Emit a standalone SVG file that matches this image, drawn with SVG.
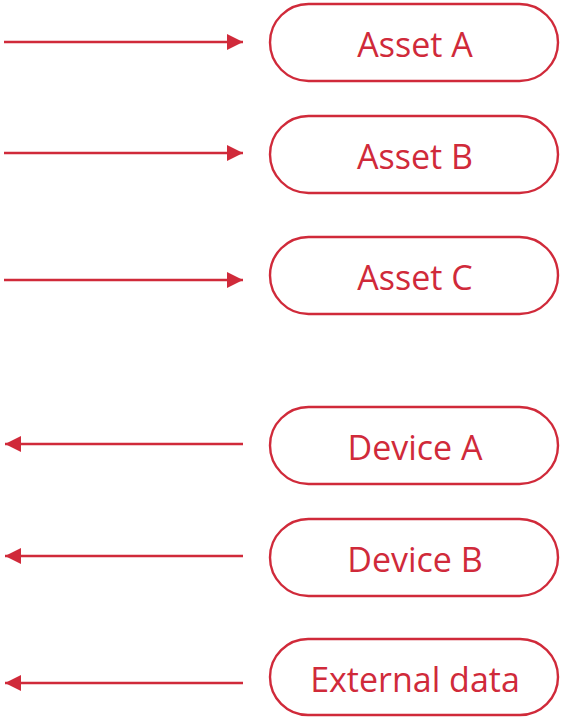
<svg xmlns="http://www.w3.org/2000/svg" width="562" height="717" viewBox="0 0 562 717">
<style>
.box{fill:#fff;stroke:#d02a3a;stroke-width:2.4}
.lbl{font-family:"Open Sans","Noto Sans",sans-serif;font-size:34px;fill:#d02a3a;text-anchor:middle}
.ln{stroke:#d02a3a;stroke-width:2.5;fill:none}
</style>
<defs>
<marker id="ah" viewBox="0 0 16 16" refX="16" refY="8" markerWidth="16" markerHeight="16" markerUnits="userSpaceOnUse" orient="auto">
<path d="M0,0 L16,8 L0,16 Z" fill="#d02a3a"/>
</marker>
</defs>
<rect width="562" height="717" fill="#fff"/>
<g id="connectors">
<line class="ln" x1="4" y1="42" x2="243" y2="42" marker-end="url(#ah)"/>
<line class="ln" x1="4" y1="153" x2="243" y2="153" marker-end="url(#ah)"/>
<line class="ln" x1="4" y1="280" x2="243" y2="280" marker-end="url(#ah)"/>
<line class="ln" x1="243" y1="444" x2="5" y2="444" marker-end="url(#ah)"/>
<line class="ln" x1="243" y1="556" x2="5" y2="556" marker-end="url(#ah)"/>
<line class="ln" x1="243" y1="683" x2="5" y2="683" marker-end="url(#ah)"/>
</g>
<g id="assetA"><rect class="box" x="270" y="4" width="288" height="77" rx="38.5"/><text class="lbl" x="415" y="57">Asset A</text></g>
<g id="assetB"><rect class="box" x="270" y="116" width="288" height="77" rx="38.5"/><text class="lbl" x="415" y="169">Asset B</text></g>
<g id="assetC"><rect class="box" x="270" y="237" width="288" height="77" rx="38.5"/><text class="lbl" x="415" y="290">Asset C</text></g>
<g id="deviceA"><rect class="box" x="270" y="407" width="288" height="77" rx="38.5"/><text class="lbl" x="415" y="460">Device A</text></g>
<g id="deviceB"><rect class="box" x="270" y="519" width="288" height="77" rx="38.5"/><text class="lbl" x="415" y="572">Device B</text></g>
<g id="external"><rect class="box" x="270" y="639" width="288" height="76" rx="38"/><text class="lbl" x="415" y="692">External data</text></g>
</svg>
